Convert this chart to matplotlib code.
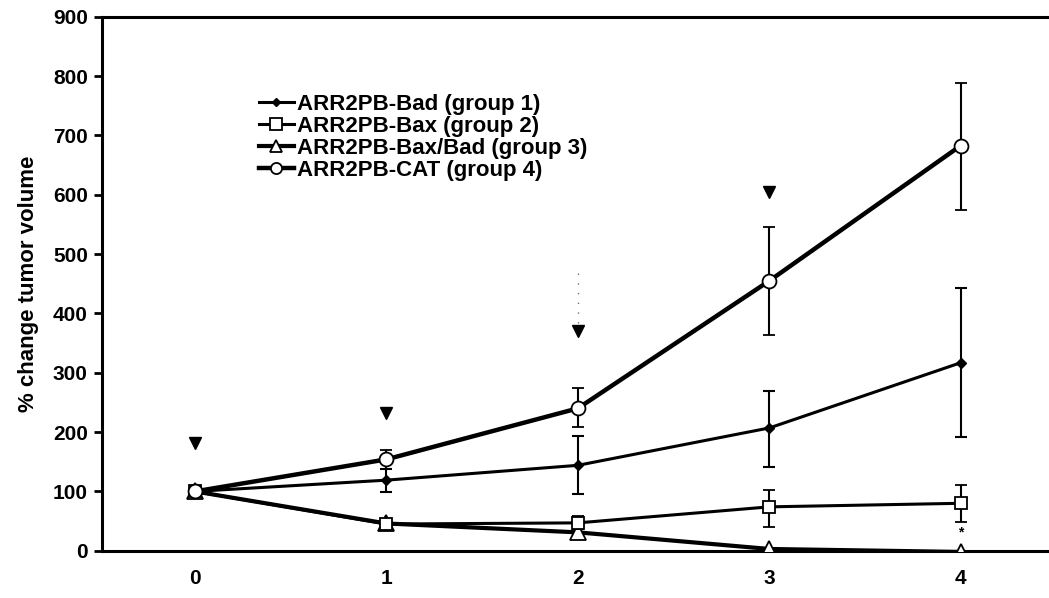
import numpy as np
import matplotlib.pyplot as plt
from matplotlib.lines import Line2D

plt.rcParams['font.family'] = ['Liberation Sans', 'DejaVu Sans']
plt.rcParams['font.weight'] = 'bold'

# =========================================================
# data
# =========================================================
weeks = [0, 1, 2, 3, 4]

bad_mean = [100, 119, 144, 207, 317]
bad_low = [100, 99, 96, 141, 191]
bad_high = [100, 138, 193, 270, 443]

bax_mean = [100, 45, 47, 74, 80]
bax_low = [100, 38, 36, 40, 49]
bax_high = [100, 52, 59, 102, 111]

baxbad_mean = [100, 46, 31, 3, -2]

cat_mean = [100, 154, 240, 455, 683]
cat_low = [100, 138, 208, 363, 574]
cat_high = [100, 169, 275, 545, 789]

arrow_x = [0, 1, 2, 3]
arrow_y = [182, 233, 371, 605]

labels = [
    "ARR2PB-Bad (group 1)",
    "ARR2PB-Bax (group 2)",
    "ARR2PB-Bax/Bad (group 3)",
    "ARR2PB-CAT (group 4)",
]


def yerr(mean, low, high):
    mean = np.array(mean)
    return [mean - np.array(low), np.array(high) - mean]


fig = plt.figure(figsize=(10.49, 5.98), dpi=100)
ax = fig.add_axes([0.097, 0.079, 0.903, 0.893])

eb = dict(ecolor="black", elinewidth=1.5, capsize=4, capthick=1.5)

# 各组样式
st_bad = dict(color="black", linewidth=2.2, marker="D", markersize=5,
              markerfacecolor="black")
st_bax = dict(color="black", linewidth=2.2, marker="s", markersize=9,
              markerfacecolor="white", markeredgewidth=1.3)
st_bb = dict(color="black", linewidth=3.0, marker="^", markersize=11,
             markerfacecolor="white", markeredgewidth=1.3)
st_cat = dict(color="black", linewidth=3.2, marker="o", markersize=10,
              markerfacecolor="white", markeredgewidth=1.3)

ax.errorbar(weeks, bad_mean, yerr=yerr(bad_mean, bad_low, bad_high),
            zorder=3, **st_bad, **eb)
ax.errorbar(weeks, bax_mean, yerr=yerr(bax_mean, bax_low, bax_high),
            zorder=4, **st_bax, **eb)
ax.plot(weeks, baxbad_mean, zorder=3, **st_bb)
ax.errorbar(weeks, cat_mean, yerr=yerr(cat_mean, cat_low, cat_high),
            zorder=5, **st_cat, **eb)

# treatment arrows
ax.plot(arrow_x, arrow_y, linestyle="none", marker="v", color="black",
        markersize=8)
ax.plot([2, 2], [384, 475], color="0.45", linestyle=(0, (1, 6)), linewidth=1)
ax.text(4, 30, "*", ha="center", va="center", fontsize=10)

ax.set_xlim(-0.486, 4.46)
ax.set_ylim(0, 900)
ax.set_yticks(range(0, 901, 100))
ax.set_xticks(weeks)
ax.tick_params(axis="y", direction="out", length=6, width=2, labelsize=15, pad=4)
ax.tick_params(axis="x", length=0, labelsize=15, pad=13)
for lab in ax.get_xticklabels() + ax.get_yticklabels():
    lab.set_fontweight("bold")

ax.spines["right"].set_visible(False)
for s in ["left", "bottom", "top"]:
    ax.spines[s].set_linewidth(2.2)

ax.set_ylabel("% change tumor volume", fontsize=16, fontweight="bold", labelpad=10)

handles = [
    Line2D([], [], **{**st_bad, "markersize": 4}),
    Line2D([], [], **{**st_bax, "markersize": 8}),
    Line2D([], [], **{**st_bb, "markersize": 8}),
    Line2D([], [], **{**st_cat, "markersize": 8}),
]
ax.legend(handles, labels, loc="upper left", bbox_to_anchor=(0.236, 0.862),
          bbox_transform=fig.transFigure, frameon=False, fontsize=16,
          handlelength=1.6, handletextpad=0.12, labelspacing=0.05,
          borderpad=0)

fig.savefig("out.png", dpi=100)
